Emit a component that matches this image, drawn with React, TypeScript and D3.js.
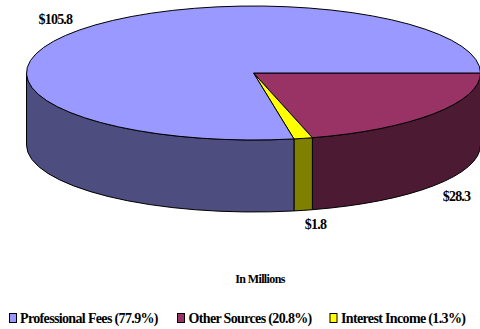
import React from "react";
import * as d3 from "d3";

const categories = ["Professional Fees (77.9%)", "Other Sources (20.8%)", "Interest Income (1.3%)"];
const amounts = [105.8, 28.3, 1.8];
const amountLabels = ["$105.8", "$28.3", "$1.8"];
const topColors = ["#9999ff", "#993366", "#ffff00"];
const sideColors = ["#4d4d80", "#4d1a33", "#808000"];
const sliceOrder = [1, 2, 0];
const caption = "In Millions";

const width = 480;
const height = 329;
const cx = 253.5;
const cy = 73;
const rx = 227;
const ry = 67;
const depth = 72;

const labelPositions = [
  { x: 55.4, y: 23.5 },
  { x: 456.5, y: 201 },
  { x: 315.5, y: 229 },
];
const legendSwatchX = [9.5, 177.5, 330];
const legendTextX = [20, 188.5, 341];

const font = "'Liberation Serif', 'Times New Roman', serif";

// Angles run clockwise from 3 o'clock, in the ellipse's parameter space.
const pie = d3
  .pie<number>()
  .sort(null)
  .value((i) => amounts[i])
  .startAngle(0)
  .endAngle(2 * Math.PI);
const arcs = pie(sliceOrder);

const px = (t: number) => cx + rx * Math.cos(t);
const py = (t: number) => cy + ry * Math.sin(t);

function topPath(a0: number, a1: number) {
  const large = a1 - a0 > Math.PI ? 1 : 0;
  return `M${cx},${cy}L${px(a0)},${py(a0)}A${rx},${ry} 0 ${large} 1 ${px(a1)},${py(a1)}Z`;
}

// Outer wall of a slice, limited to the half of the ellipse facing the viewer.
function sidePath(a0: number, a1: number) {
  const s = Math.max(a0, 0);
  const e = Math.min(a1, Math.PI);
  if (e <= s) return null;
  return (
    `M${px(s)},${py(s)}A${rx},${ry} 0 0 1 ${px(e)},${py(e)}` +
    `L${px(e)},${py(e) + depth}A${rx},${ry} 0 0 0 ${px(s)},${py(s) + depth}Z`
  );
}

export default function App() {
  return (
    <svg
      width={width}
      height={height}
      viewBox={`0 0 ${width} ${height}`}
      style={{ position: "absolute", left: 0, top: 0, background: "#fff" }}
      fontFamily={font}
      fontWeight="bold"
    >
      {arcs.map((a) => {
        const d = sidePath(a.startAngle, a.endAngle);
        return d ? <path key={a.data} d={d} fill={sideColors[a.data]} stroke="#000" strokeWidth={1} /> : null;
      })}
      {arcs.map((a) => (
        <path
          key={a.data}
          d={topPath(a.startAngle, a.endAngle)}
          fill={topColors[a.data]}
          stroke="#000"
          strokeWidth={1}
          strokeLinejoin="round"
        />
      ))}
      {amountLabels.map((t, i) => (
        <text key={t} x={labelPositions[i].x} y={labelPositions[i].y} fontSize={14} textAnchor="middle" letterSpacing={-0.8} fill="#000">
          {t}
        </text>
      ))}
      <text x={260} y={283} fontSize={12} textAnchor="middle" letterSpacing={-0.6} fill="#000">
        {caption}
      </text>
      {categories.map((c, i) => (
        <g key={c}>
          <rect x={legendSwatchX[i]} y={313.5} width={7} height={9} fill={topColors[i]} stroke="#000" strokeWidth={1} />
          <text x={legendTextX[i]} y={323} fontSize={14} letterSpacing={-0.65} fill="#000">
            {c}
          </text>
        </g>
      ))}
    </svg>
  );
}
